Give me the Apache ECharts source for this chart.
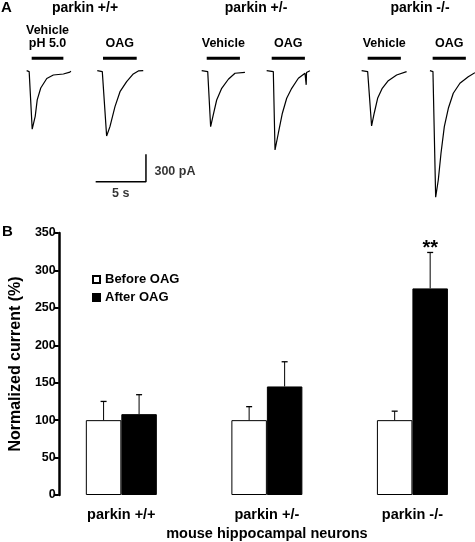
<!DOCTYPE html>
<html><head><meta charset="utf-8">
<script src="https://cdn.jsdelivr.net/npm/echarts@6/dist/echarts.min.js"></script>
<style>html,body{margin:0;padding:0;background:#fff}#c{width:475px;height:542px}</style>
</head><body><div id="c"></div>
<script>
const FONT = '"Liberation Sans", Arial, Helvetica, sans-serif';

// ---------- Panel B data ----------
const genotypes = ['parkin +/+', 'parkin +/-', 'parkin -/-'];
const beforeOAG = [100, 100, 100];
const beforeErr = [25, 18, 12];
const afterOAG = [108, 145, 276];
const afterErr = [26, 33, 48];
const significance = ['', '', '**'];
const legendNames = ['Before OAG', 'After OAG'];
const yMin = 0, yMax = 350, yStep = 50;

// ---------- Panel A data: [time (s), current (pA)] relative to each trace onset ----------
const traceVehWT = [[0,0],[0.25,-10],[0.55,-640],[0.85,-500],[1.05,-320],[1.4,-190],[2.0,-85],[2.65,-47],[3.65,-36],[4.3,-15],[4.4,-5]];
const traceOagWT = [[0,0],[0.5,-10],[0.93,-715],[1.26,-613],[1.76,-394],[2.26,-230],[2.92,-120],[3.58,-36],[4.08,-3],[4.57,0]];
const traceVehHet = [[0,0],[0.6,-10],[0.89,-613],[1.15,-485],[1.49,-321],[1.99,-193],[2.65,-94],[3.31,-28],[4.3,-18]];
const traceOagHet = [[0,0],[0.66,-10],[0.83,-868],[1.16,-685],[1.56,-466],[1.99,-302],[2.49,-193],[3.15,-83],[3.81,-28],[3.9,-25],[3.93,-155],[3.96,-20],[4.3,0]];
const traceVehKO = [[0,0],[0.6,-10],[0.99,-605],[1.25,-466],[1.59,-302],[2.05,-193],[2.65,-109],[3.48,-47],[4.47,-11]];
const traceOagKO = [[0,0],[0.3,-10],[0.57,-1386],[0.83,-1197],[1.1,-904],[1.43,-613],[1.83,-412],[2.32,-247],[2.98,-138],[3.81,-66],[4.47,-22]];
const traces = [traceVehWT, traceOagWT, traceVehHet, traceOagHet, traceVehKO, traceOagKO];
const traceOnset = [2.65, 9.67, 20.05, 26.51, 35.95, 42.74];
const appLabels = [['Vehicle', 'pH 5.0'], ['OAG'], ['Vehicle'], ['OAG'], ['Vehicle'], ['OAG']];
const appStart = [0.5, 0.57, 0.5, 0.5, 0.6, 0.27];
const appDuration = [3.15, 3.35, 3.3, 3.3, 3.3, 3.3];
const appLevel = 136;
const genotypeTitles = ['parkin +/+', 'parkin +/-', 'parkin -/-'];
const scaleTime = 5, scaleCurrent = 300;

// ---------- layout constants ----------
const SCALE_CORNER = [14.51, -1215];
const BAR_W = 35.5;
const LINE_H = 13;
const LABEL_GAP = 15;

const chart = echarts.init(document.getElementById('c'), null, {renderer: 'canvas'});

const series = [];
const appMid = [];
traces.forEach((tr, i) => {
  series.push({
    type: 'line', xAxisIndex: 0, yAxisIndex: 0, symbol: 'none', silent: true,
    lineStyle: {color: '#000', width: 1.2}, clip: false,
    data: tr.map(([t, v]) => [traceOnset[i] + t, v])
  });
  const s = traceOnset[i] + appStart[i], e = s + appDuration[i];
  appMid.push([(s + e) / 2, appLevel]);
  series.push({
    type: 'line', xAxisIndex: 0, yAxisIndex: 0, symbol: 'none', silent: true,
    lineStyle: {color: '#000', width: 3.2},
    data: [[s, appLevel], [e, appLevel]]
  });
});
// application labels
series.push({
  type: 'custom', xAxisIndex: 0, yAxisIndex: 0, silent: true, z: 10,
  renderItem: function (params, api) {
    const p = api.coord([api.value(0), api.value(1)]);
    const lines = appLabels[params.dataIndex];
    return {type: 'group', children: lines.map((l, k) => ({
      type: 'text', x: p[0], y: p[1] - LABEL_GAP - (lines.length - 1 - k) * LINE_H,
      style: {text: l, fill: '#000', font: 'bold 12.5px ' + FONT,
        align: 'center', verticalAlign: 'middle', textAlign: 'center', textVerticalAlign: 'middle'}
    }))};
  },
  data: appMid
});
// scale bar
series.push({
  type: 'line', xAxisIndex: 0, yAxisIndex: 0, symbol: 'none', silent: true,
  lineStyle: {color: '#000', width: 1.5},
  data: [[SCALE_CORNER[0] - scaleTime, SCALE_CORNER[1]], SCALE_CORNER, [SCALE_CORNER[0], SCALE_CORNER[1] + scaleCurrent]]
});
series.push({
  type: 'scatter', xAxisIndex: 0, yAxisIndex: 0, symbolSize: 1, silent: true,
  itemStyle: {color: 'rgba(0,0,0,0)'},
  label: {show: true, color: '#000', fontFamily: FONT, fontWeight: 'bold', fontSize: 12.5},
  data: [
    {value: [SCALE_CORNER[0], SCALE_CORNER[1] + scaleCurrent / 2 - 40], label: {position: 'right', distance: 8, formatter: scaleCurrent + ' pA'}},
    {value: [SCALE_CORNER[0] - scaleTime / 2, SCALE_CORNER[1]], label: {position: 'bottom', distance: 5, formatter: scaleTime + ' s'}}
  ]
});

// Panel B bars
series.push({
  name: legendNames[0], type: 'bar', xAxisIndex: 1, yAxisIndex: 1,
  barWidth: BAR_W, barGap: '0%',
  itemStyle: {color: '#fff', borderColor: '#000', borderWidth: 1},
  data: beforeOAG.map((v, i) => [i + 1, v])
});
series.push({
  name: legendNames[1], type: 'bar', xAxisIndex: 1, yAxisIndex: 1,
  barWidth: BAR_W, barGap: '0%',
  itemStyle: {color: '#000', borderColor: '#000', borderWidth: 1},
  data: afterOAG.map((v, i) => [i + 1, v])
});
function errRender(vals, errs, side) {
  return function (params, api) {
    const i = params.dataIndex;
    const base = api.coord([i + 1, vals[i]]);
    const top = api.coord([i + 1, vals[i] + errs[i]]);
    const x = base[0] + side * BAR_W / 2;
    const children = [
      {type: 'line', shape: {x1: x, y1: base[1], x2: x, y2: top[1]}, style: {stroke: '#000', lineWidth: 1}},
      {type: 'line', shape: {x1: x - 3, y1: top[1], x2: x + 3, y2: top[1]}, style: {stroke: '#000', lineWidth: 1.3}}
    ];
    if (side > 0 && significance[i]) {
      children.push({type: 'text', x: x, y: top[1] - 4, style: {
        text: significance[i], fill: '#000', font: 'bold 20px ' + FONT,
        align: 'center', verticalAlign: 'middle', textAlign: 'center', textVerticalAlign: 'middle'}});
    }
    return {type: 'group', children};
  };
}
series.push({
  type: 'custom', xAxisIndex: 1, yAxisIndex: 1, silent: true, z: 5,
  renderItem: errRender(beforeOAG, beforeErr, -1),
  data: beforeOAG.map((v, i) => [i + 1, v, v + beforeErr[i]])
});
series.push({
  type: 'custom', xAxisIndex: 1, yAxisIndex: 1, silent: true, z: 5,
  renderItem: errRender(afterOAG, afterErr, 1),
  data: afterOAG.map((v, i) => [i + 1, v, v + afterErr[i]])
});

const titleX = [85, 256, 420];
const graphic = [
  {type: 'text', x: 1, y: 8, style: {text: 'A', fill: '#000', font: 'bold 15px ' + FONT, verticalAlign: 'middle', textVerticalAlign: 'middle'}},
  {type: 'text', x: 2, y: 232, style: {text: 'B', fill: '#000', font: 'bold 15px ' + FONT, verticalAlign: 'middle', textVerticalAlign: 'middle'}}
].concat(genotypeTitles.map((t, i) => ({
  type: 'text', x: titleX[i], y: 8,
  style: {text: t, fill: '#000', font: 'bold 14px ' + FONT, align: 'center', verticalAlign: 'middle', textAlign: 'center', textVerticalAlign: 'middle'}
})));

chart.setOption({
  animation: false,
  backgroundColor: '#fff',
  textStyle: {fontFamily: FONT},
  graphic: graphic,
  legend: {
    data: legendNames, orient: 'vertical', left: 92, top: 273, padding: 0,
    itemWidth: 7, itemHeight: 7, itemGap: 5, icon: 'rect', selectedMode: false,
    textStyle: {color: '#000', fontFamily: FONT, fontWeight: 'bold', fontSize: 13}
  },
  grid: [
    {left: 0, right: 0, top: 20, height: 180},
    {left: 58, right: 0, top: 233, bottom: 46.3}
  ],
  xAxis: [
    {gridIndex: 0, type: 'value', min: 0, max: 47.22, show: false},
    {gridIndex: 1, type: 'value', min: 0.57, max: 3.43,
      axisLine: {show: false}, axisTick: {show: false}, splitLine: {show: false},
      axisLabel: {customValues: [1, 2, 3], formatter: v => genotypes[Math.round(v) - 1],
        color: '#000', fontFamily: FONT, fontWeight: 'bold', fontSize: 14.5, margin: 12},
      name: 'mouse hippocampal neurons', nameLocation: 'middle', nameGap: 31,
      nameTextStyle: {color: '#000', fontFamily: FONT, fontWeight: 'bold', fontSize: 14.5}}
  ],
  yAxis: [
    {gridIndex: 0, type: 'value', min: -1416, max: 555, show: false},
    {gridIndex: 1, type: 'value', min: yMin, max: yMax, interval: yStep,
      axisLine: {show: true, lineStyle: {color: '#000', width: 2.5}},
      axisTick: {show: true, length: 5, lineStyle: {color: '#000', width: 2}},
      splitLine: {show: false},
      axisLabel: {color: '#000', fontFamily: FONT, fontWeight: 'bold', fontSize: 12.5, margin: 3},
      name: 'Normalized current (%)', nameLocation: 'middle', nameGap: 28,
      nameTextStyle: {color: '#000', fontFamily: FONT, fontWeight: 'bold', fontSize: 16}}
  ],
  series: series
});
</script></body></html>
